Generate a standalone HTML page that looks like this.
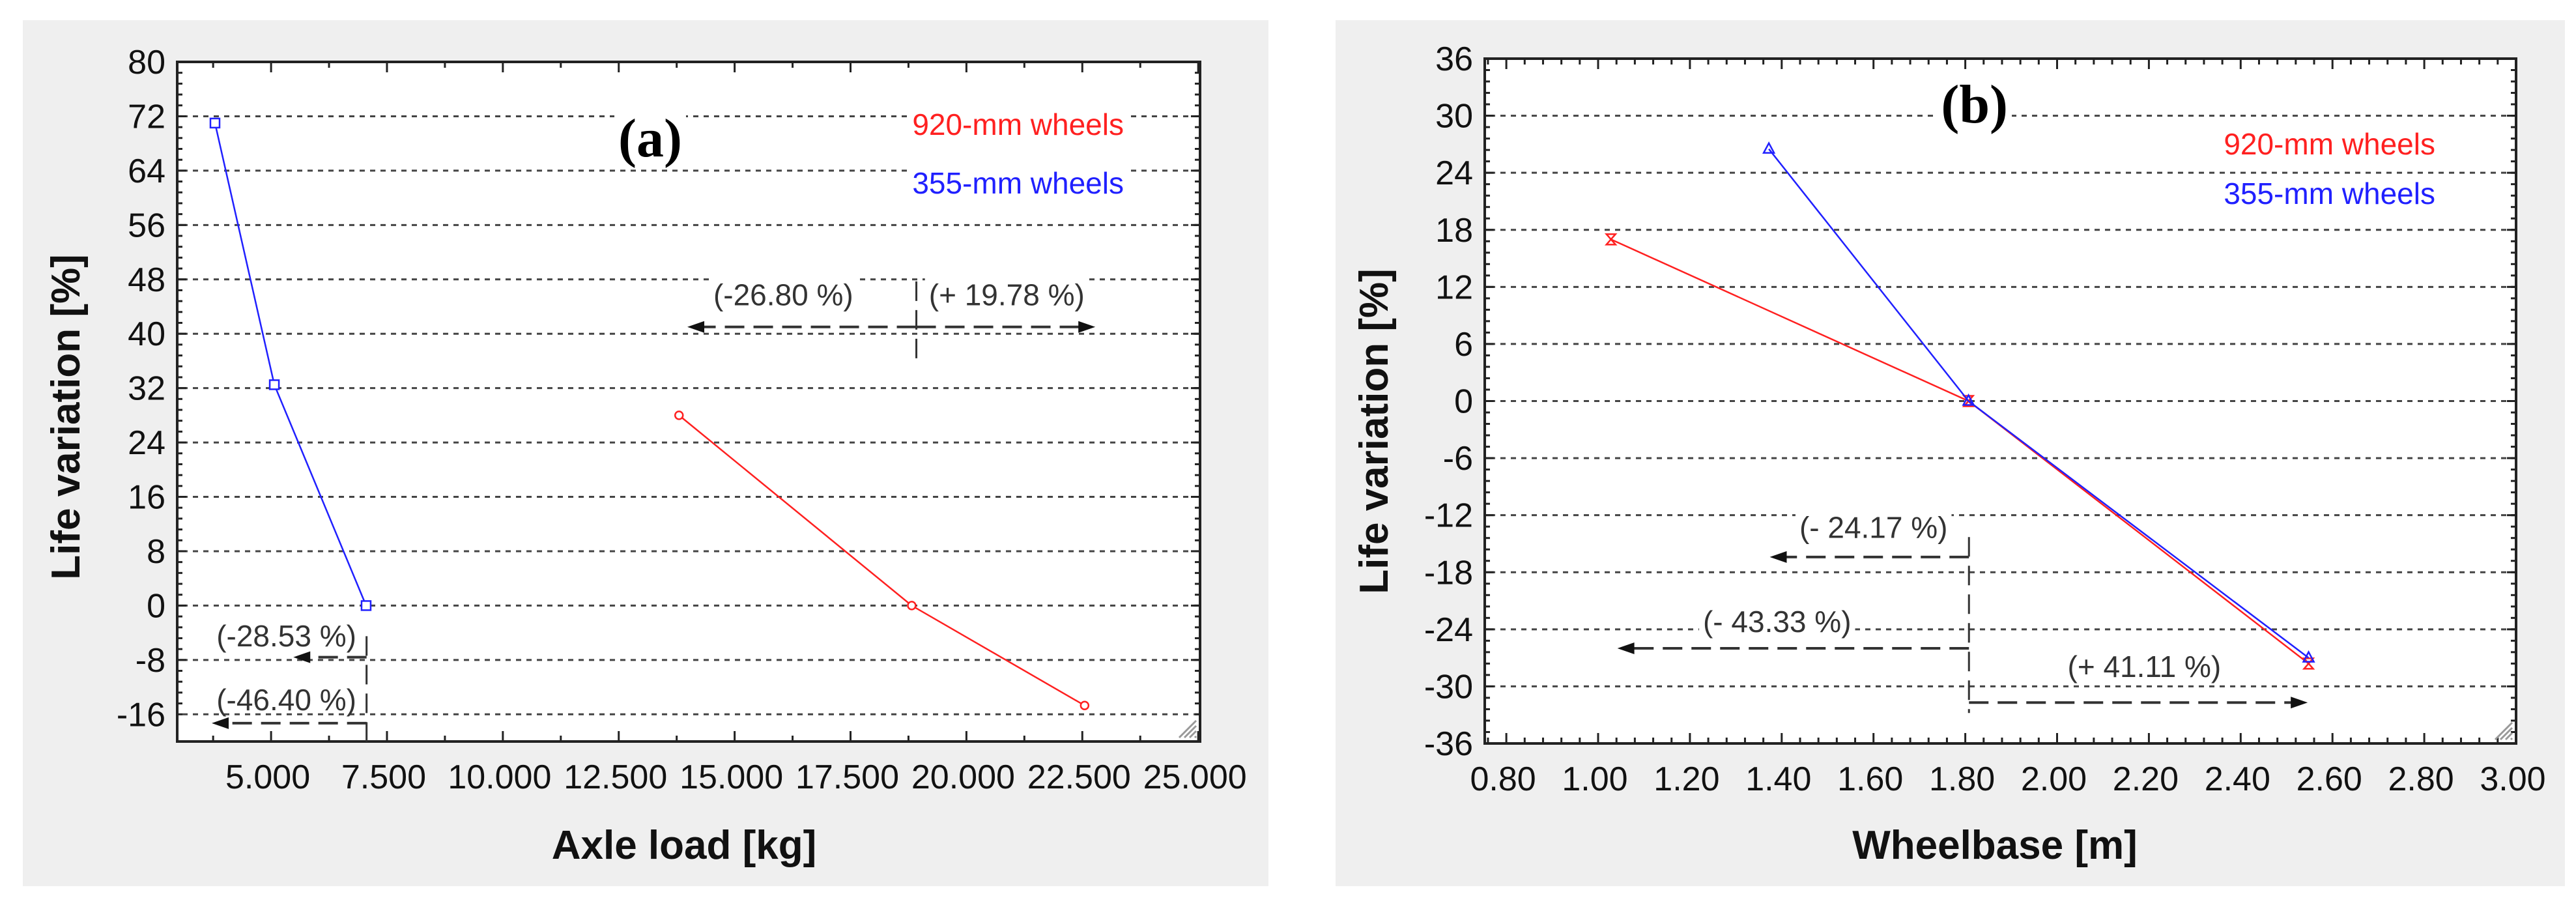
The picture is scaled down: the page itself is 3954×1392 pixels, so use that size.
<!DOCTYPE html>
<html><head><meta charset="utf-8">
<style>
html,body{margin:0;padding:0;background:#fff;}
svg{display:block;font-family:"Liberation Sans",Arial,sans-serif;}
</style></head>
<body>
<svg id="fig" width="3954" height="1392" viewBox="0 0 3954 1392" xmlns="http://www.w3.org/2000/svg">
  <rect x="35" y="31" width="1912" height="1329" fill="#efefef"/>
  <rect x="2050" y="31" width="1887" height="1329" fill="#efefef"/>
  <g id="pa"></g>
  <g id="pb"></g>
</svg>
<script>
// ---- Panel (a) data ----
const aYTicks = [80,72,64,56,48,40,32,24,16,8,0,-8,-16];
const aXTicks = [5000,7500,10000,12500,15000,17500,20000,22500,25000];
const aXTickLabels = ["5.000","7.500","10.000","12.500","15.000","17.500","20.000","22.500","25.000"];
const aBlueX = [3790,5070,7050];
const aBlueY = [71,32.5,0];
const aRedX = [13800,18820,22550];
const aRedY = [28,0,-14.7];
// ---- Panel (b) data ----
const bYTicks = [36,30,24,18,12,6,0,-6,-12,-18,-24,-30,-36];
const bXTicks = [0.8,1.0,1.2,1.4,1.6,1.8,2.0,2.2,2.4,2.6,2.8,3.0];
const bXTickLabels = ["0.80","1.00","1.20","1.40","1.60","1.80","2.00","2.20","2.40","2.60","2.80","3.00"];
const bRedX = [1.028,1.807,2.548];
const bRedY = [17,0,-27.6];
const bBlueX = [1.372,1.807,2.548];
const bBlueY = [26.5,0,-27];

const NS="http://www.w3.org/2000/svg";
function mk(parent,tag,attrs,text){
  const e=document.createElementNS(NS,tag);
  for(const k in attrs) e.setAttribute(k,attrs[k]);
  if(text!==undefined) e.textContent=text;
  parent.appendChild(e);
  return e;
}

function panel(g,o){
  const X=v=>o.L+(v-o.xmin)/(o.xmax-o.xmin)*(o.R-o.L);
  const Y=v=>o.B-(v-o.ymin)/(o.ymax-o.ymin)*(o.B-o.T);
  let e=mk(g,'rect',{x:o.L,y:o.T,width:o.R-o.L,height:o.B-o.T,fill:'#fff'});
  
  
  o.yTicks.forEach(v=>{
    if(v===o.ymax||v===o.ymin) return;
    const l=mk(g,'line',{x1:o.L+8,x2:o.R,y1:Y(v),y2:Y(v),stroke:'#444','stroke-width':3,'stroke-dasharray':'8 8'});
    
    
  });
  for(let i=0;i<o.yTicks.length-1;i++){
    const a=o.yTicks[i],b=o.yTicks[i+1];
    for(let k=0;k<=5;k++){
      const v=a+(b-a)*k/5, len=(k===0)?14:8;
      mk(g,'line',{x1:o.L,x2:o.L+len,y1:Y(v),y2:Y(v),stroke:'#222','stroke-width':3});
      mk(g,'line',{x1:o.R,x2:o.R-len,y1:Y(v),y2:Y(v),stroke:'#222','stroke-width':3});
    }
  }
  for(let i=0;i<o.xTicks.length;i++){
    const v=o.xTicks[i];
    [o.B,o.T].forEach((yy,j)=>{
      const d=j===0?-1:1;
      mk(g,'line',{x1:X(v),x2:X(v),y1:yy,y2:yy+d*16,stroke:'#222','stroke-width':3});
    });
    if(i<o.xTicks.length-1){
      for(let k=1;k<o.xMinor;k++){
        const w=v+(o.xTicks[i+1]-v)*k/o.xMinor;
        mk(g,'line',{x1:X(w),x2:X(w),y1:o.B,y2:o.B-9,stroke:'#222','stroke-width':3});
        mk(g,'line',{x1:X(w),x2:X(w),y1:o.T,y2:o.T+9,stroke:'#222','stroke-width':3});
      }
    }
    if(i===0){
      for(let k=1;k<o.xMinor;k++){
        const w=v-(o.xTicks[1]-v)*k/o.xMinor;
        if(X(w)>o.L+2){
          mk(g,'line',{x1:X(w),x2:X(w),y1:o.B,y2:o.B-9,stroke:'#222','stroke-width':3});
          mk(g,'line',{x1:X(w),x2:X(w),y1:o.T,y2:o.T+9,stroke:'#222','stroke-width':3});
        }
      }
    }
    const t=mk(g,'text',{x:X(v)-5,y:o.B+72,'text-anchor':'middle','font-size':52,fill:'#111'},o.xTickLabels[i]);
    
    
  }
  o.yTicks.forEach(v=>{
    const t=mk(g,'text',{x:o.L-18,y:Y(v)+18,'text-anchor':'end','font-size':52,fill:'#111'},String(v));
    
    
  });
  e=mk(g,'rect',{x:o.L,y:o.T,width:o.R-o.L,height:o.B-o.T,fill:'none',stroke:'#222','stroke-width':4});
  
  
  for(let k=0;k<4;k++){
    mk(g,'line',{x1:o.R-8-k*8,y1:o.B-6,x2:o.R-6,y2:o.B-8-k*8,stroke:'#999','stroke-width':3});
  }
  o.texts.forEach(tx=>{
    const t=mk(g,'text',{x:tx.px?tx.x:X(tx.x),y:tx.px?tx.y:Y(tx.y),'text-anchor':tx.anchor||'middle','font-size':tx.size,fill:tx.color,'font-family':tx.font||'"Liberation Sans",Arial,sans-serif','font-weight':tx.bold?'bold':'normal'},tx.s);
    
    
    if(tx.bg){
      const bb=t.getBBox();
      const r=document.createElementNS(NS,'rect');
      r.setAttribute('x',bb.x-6);r.setAttribute('y',bb.y);r.setAttribute('width',bb.width+12);r.setAttribute('height',bb.height);r.setAttribute('fill','#fff');
      g.insertBefore(r,t);
    }
  });
  o.arrows.forEach(a=>{
    const x1=X(a.x1),x2=X(a.x2),y=Y(a.y),dir=Math.sign(x2-x1);
    let l=mk(g,'line',{x1:x1,x2:x2-dir*20,y1:y,y2:y,stroke:'#333','stroke-width':4,'stroke-dasharray':'30 14'});
    
    
    mk(g,'polygon',{points:`${x2},${y} ${x2-dir*26},${y-9} ${x2-dir*26},${y+9}`,fill:'#111'});
  });
  o.vlines.forEach(v=>{
    const l=mk(g,'line',{x1:X(v.x),x2:X(v.x),y1:Y(v.y1),y2:Y(v.y2),stroke:'#333','stroke-width':3,'stroke-dasharray':'30 14'});
    
    
  });
  o.series.forEach(s=>{
    const pts=s.x.map((v,i)=>X(v)+','+Y(s.y[i])).join(' ');
    const pl=mk(g,'polyline',{points:pts,fill:'none',stroke:s.color,'stroke-width':2.5});
    
    
    s.x.forEach((v,i)=>{
      const cx=X(v),cy=Y(s.y[i]);let m;
      if(s.marker==='square') m=mk(g,'rect',{x:cx-7,y:cy-7,width:14,height:14,fill:'#fff',stroke:s.color,'stroke-width':2.5});
      else if(s.marker==='circle') m=mk(g,'circle',{cx:cx,cy:cy,r:6,fill:'#fff',stroke:s.color,'stroke-width':2.5});
      else if(s.marker==='tri') m=mk(g,'polygon',{points:`${cx},${cy-9} ${cx-8},${cy+6} ${cx+8},${cy+6}`,fill:'none',stroke:s.color,'stroke-width':2.5});
      else m=mk(g,'polygon',{points:`${cx-7},${cy-8} ${cx+7},${cy-8} ${cx-7},${cy+8} ${cx+7},${cy+8}`,fill:'none',stroke:s.color,'stroke-width':2.5});
      
      
    });
  });
}

panel(document.getElementById('pa'),{
  L:272,R:1842,T:95,B:1138,xmin:2975,xmax:25040,ymin:-20,ymax:80,
  yTicks:aYTicks,xTicks:aXTicks,xTickLabels:aXTickLabels,xMinor:2,
  series:[
    {name:'series-355mm',x:aBlueX,y:aBlueY,color:'#2020ff',marker:'square'},
    {name:'series-920mm',x:aRedX,y:aRedY,color:'#ff2020',marker:'circle'}
  ],
  texts:[
    {s:'(a)',x:998,y:240,px:1,size:84,color:'#000',bold:1,font:'"Liberation Serif",serif',bg:1,name:'panel-a-title'},
    {s:'920-mm wheels',x:1725,y:207,px:1,size:46,color:'#ff2020',anchor:'end',bg:1,name:'legend-920mm'},
    {s:'355-mm wheels',x:1725,y:297,px:1,size:46,color:'#2020ff',anchor:'end',bg:1,name:'legend-355mm'},
    {s:'(-26.80 %)',x:16050,y:44.2,size:46,color:'#333',bg:1,name:'annotation-minus-26-80'},
    {s:'(+ 19.78 %)',x:20870,y:44.2,size:46,color:'#333',bg:1,name:'annotation-plus-19-78'},
    {s:'(-28.53 %)',x:5330,y:-6,size:46,color:'#333',name:'annotation-minus-28-53'},
    {s:'(-46.40 %)',x:5330,y:-15.4,size:46,color:'#333',name:'annotation-minus-46-40'},
  ],
  arrows:[{x1:18920,x2:13980,y:41},{x1:18920,x2:22780,y:41},{x1:7060,x2:5480,y:-7.6},{x1:7060,x2:3720,y:-17.3}],
  vlines:[{x:18920,y1:47.7,y2:35.4},{x:7060,y1:-4.5,y2:-20}]
});
(function(){
  const g=document.getElementById('pa');
  let t=mk(g,'text',{x:0,y:0,'text-anchor':'middle','font-size':62,'font-weight':'bold',fill:'#111',transform:'translate(122,640) rotate(-90)'},'Life variation [%]');
  
  
  t=mk(g,'text',{x:1050,y:1318,'text-anchor':'middle','font-size':62,'font-weight':'bold',fill:'#111'},'Axle load [kg]');
  
  
})();

panel(document.getElementById('pb'),{
  L:2279,R:3862,T:90,B:1141,xmin:0.753,xmax:3.0,ymin:-36,ymax:36,
  yTicks:bYTicks,xTicks:bXTicks,xTickLabels:bXTickLabels,xMinor:5,
  series:[
    {name:'series-920mm',x:bRedX,y:bRedY,color:'#ff2020',marker:'hour'},
    {name:'series-355mm',x:bBlueX,y:bBlueY,color:'#2020ff',marker:'tri'}
  ],
  texts:[
    {s:'(b)',x:1.82,y:29.3,size:84,color:'#000',bold:1,font:'"Liberation Serif",serif',bg:1,name:'panel-b-title'},
    {s:'920-mm wheels',x:3738,y:237,px:1,size:46,color:'#ff2020',anchor:'end',name:'legend-920mm'},
    {s:'355-mm wheels',x:3738,y:313,px:1,size:46,color:'#2020ff',anchor:'end',name:'legend-355mm'},
    {s:'(- 24.17 %)',x:1.6,y:-14.4,size:46,color:'#333',bg:1,name:'annotation-minus-24-17'},
    {s:'(- 43.33 %)',x:1.39,y:-24.3,size:46,color:'#333',bg:1,name:'annotation-minus-43-33'},
    {s:'(+ 41.11 %)',x:2.19,y:-29.0,size:46,color:'#333',bg:1,name:'annotation-plus-41-11'},
  ],
  arrows:[{x1:1.808,x2:1.374,y:-16.4},{x1:1.808,x2:1.042,y:-26.0},{x1:1.808,x2:2.546,y:-31.7}],
  vlines:[{x:1.808,y1:-14.3,y2:-32.8}]
});
(function(){
  const g=document.getElementById('pb');
  let t=mk(g,'text',{x:0,y:0,'text-anchor':'middle','font-size':62,'font-weight':'bold',fill:'#111',transform:'translate(2130,662) rotate(-90)'},'Life variation [%]');
  
  
  t=mk(g,'text',{x:3062,y:1318,'text-anchor':'middle','font-size':62,'font-weight':'bold',fill:'#111'},'Wheelbase [m]');
  
  
})();
</script>
</body></html>
